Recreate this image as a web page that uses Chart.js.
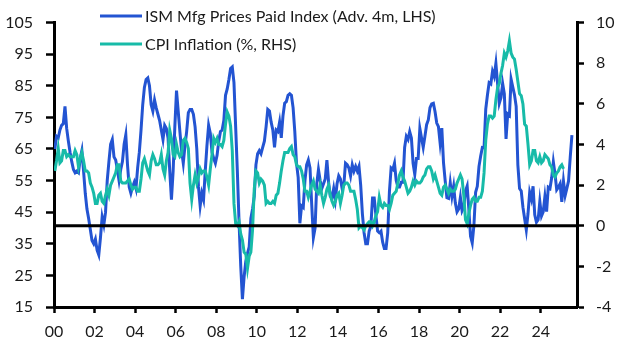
<!DOCTYPE html>
<html>
<head>
<meta charset="utf-8">
<script src="https://cdn.jsdelivr.net/npm/chart.js@4.4.1/dist/chart.umd.min.js"></script>
<style>
  html, body { margin: 0; padding: 0; background: #ffffff; }
  #wrap { width: 630px; height: 355px; position: relative; }
</style>
</head>
<body>
<div id="wrap"><canvas id="c" width="630" height="355"></canvas></div>
<script>
// ---------- DATA ----------
const ismLabel = 'ISM Mfg Prices Paid Index (Adv. 4m, LHS)';
const cpiLabel = 'CPI Inflation (%, RHS)';

// x tick labels (every two years, first tick = Jan 2000)
const xTickLabels = ['00','02','04','06','08','10','12','14','16','18','20','22','24'];

// ISM Manufacturing Prices Paid, advanced 4 months: monthly, plotted from Jan 2000
const ism2000 = [65, 69, 68.5, 71, 72.5, 73, 78.5, 71.5, 67.5, 64, 61, 58.5];
const ism2001 = [57.5, 58, 57.5, 62, 64.5, 58, 51, 46, 43, 39.5, 36, 35];
const ism2002 = [36.5, 33, 31.5, 37, 43.5, 41, 45, 55, 61, 66.5, 68, 62.5];
const ism2003 = [61.5, 58.5, 55, 58.5, 61, 66.5, 69.5, 60, 53, 51, 53, 54.5];
const ism2004 = [52.5, 59, 64, 71, 79, 84.5, 87, 87.5, 85, 79, 77, 80.5];
const ism2005 = [78, 76, 74, 71, 68, 72.5, 71.5, 68.5, 58, 49, 58, 72];
const ism2006 = [83.5, 77, 70.5, 64.5, 60.5, 66, 70.5, 76.5, 77.5, 77.5, 76, 72];
const ism2007 = [65, 53, 47, 51, 49, 58, 66, 72.5, 70, 64, 62, 60.5];
const ism2008 = [63, 67.5, 70.5, 71, 74, 82, 84, 87, 90.5, 91, 86, 72];
const ism2009 = [58, 42, 28, 17.5, 24.5, 29.5, 32, 34, 43, 46, 50, 60];
const ism2010 = [63.5, 64.5, 63.5, 65.5, 67.5, 72, 77.5, 77, 73.5, 71, 65.5, 71];
const ism2011 = [70.5, 73.5, 68.5, 75.5, 79.5, 80, 82, 82.5, 82, 78, 70.5, 60.5];
const ism2012 = [56, 41.5, 47, 46.5, 55, 60, 61.5, 59, 47.5, 37, 40, 54];
const ism2013 = [58.5, 55, 52.5, 54, 55.5, 61.5, 54.5, 50, 49.5, 52.5, 49, 54];
const ism2014 = [56.5, 55.5, 52.5, 53.5, 60.5, 60, 59, 56.5, 60, 58, 59.5, 58];
const ism2015 = [59.5, 53.5, 44.5, 38.5, 35, 35, 39, 40.5, 49.5, 49.5, 44, 39];
const ism2016 = [38.5, 39, 35.5, 33.5, 33.5, 38.5, 51.5, 59, 58.5, 60.5, 55, 53];
const ism2017 = [53, 54.5, 54.5, 65.5, 69, 68, 70.5, 68.5, 60.5, 57, 62, 62];
const ism2018 = [71.5, 68.5, 65.5, 69, 72.7, 74.2, 78.1, 79.3, 79.5, 76.8, 73.2, 72.1];
const ism2019 = [66.9, 71.6, 60.7, 54.9, 49.6, 49.4, 54.3, 50.0, 53.2, 47.9, 45.1, 46.0];
const ism2020 = [49.7, 45.5, 46.7, 51.7, 53.3, 45.9, 37.4, 35.3, 40.8, 51.3, 53.2, 59.5];
const ism2021 = [62.8, 65.5, 65.4, 77.6, 82.1, 86.0, 85.6, 89.6, 88.0, 92.1, 85.7, 79.4];
const ism2022 = [81.2, 85.7, 82.4, 68.2, 76.1, 75.6, 87.1, 84.6, 82.2, 78.5, 60.0, 52.5];
const ism2023 = [51.7, 46.6, 43.0, 39.4, 44.5, 51.3, 49.2, 53.2, 44.2, 41.8, 42.6, 48.4];
const ism2024 = [43.8, 45.1, 49.9, 45.2, 52.9, 52.5, 55.8, 60.9, 57.0, 52.1, 52.9, 54.0];
const ism2025 = [48.3, 54.8, 50.3, 52.5, 54.9, 62.4, 69.4];

// US CPI inflation, % y/y, monthly from Jan 2000
const cpi2000 = [2.7, 3.2, 3.8, 3.1, 3.2, 3.7, 3.7, 3.4, 3.5, 3.4, 3.4, 3.4];
const cpi2001 = [3.7, 3.5, 2.9, 3.3, 3.6, 3.2, 2.7, 2.7, 2.6, 2.1, 1.9, 1.6];
const cpi2002 = [1.1, 1.1, 1.5, 1.6, 1.2, 1.1, 1.5, 1.8, 1.5, 2.0, 2.2, 2.4];
const cpi2003 = [2.6, 3.0, 3.0, 2.2, 2.1, 2.1, 2.1, 2.2, 2.3, 2.0, 1.8, 1.9];
const cpi2004 = [1.9, 1.7, 1.7, 2.3, 3.1, 3.3, 3.0, 2.7, 2.5, 3.2, 3.5, 3.3];
const cpi2005 = [3.0, 3.0, 3.1, 3.5, 2.8, 2.5, 3.2, 3.6, 4.7, 4.3, 3.5, 3.4];
const cpi2006 = [4.0, 3.6, 3.4, 3.5, 4.2, 4.3, 4.1, 3.8, 2.1, 1.3, 2.0, 2.5];
const cpi2007 = [2.1, 2.4, 2.8, 2.6, 2.7, 2.7, 2.4, 2.0, 2.8, 3.5, 4.3, 4.1];
const cpi2008 = [4.3, 4.0, 4.0, 3.9, 4.2, 5.0, 5.6, 5.4, 4.9, 3.7, 1.1, 0.1];
const cpi2009 = [0.0, 0.2, -0.4, -0.7, -1.3, -1.4, -2.1, -1.5, -1.3, -0.2, 1.8, 2.7];
const cpi2010 = [2.6, 2.1, 2.3, 2.2, 2.0, 1.1, 1.2, 1.1, 1.1, 1.2, 1.1, 1.5];
const cpi2011 = [1.6, 2.1, 2.7, 3.2, 3.6, 3.6, 3.6, 3.8, 3.9, 3.5, 3.4, 3.0];
const cpi2012 = [2.9, 2.9, 2.7, 2.3, 1.7, 1.7, 1.4, 1.7, 2.0, 2.2, 1.8, 1.7];
const cpi2013 = [1.6, 2.0, 1.5, 1.1, 1.4, 1.8, 2.0, 1.5, 1.2, 1.0, 1.2, 1.5];
const cpi2014 = [1.6, 1.1, 1.5, 2.0, 2.1, 2.1, 2.0, 1.7, 1.7, 1.7, 1.3, 0.8];
const cpi2015 = [-0.1, 0.0, -0.1, -0.2, 0.0, 0.1, 0.2, 0.2, 0.0, 0.2, 0.5, 0.7];
const cpi2016 = [1.4, 1.0, 0.9, 1.1, 1.0, 1.0, 0.8, 1.1, 1.5, 1.6, 1.7, 2.1];
const cpi2017 = [2.5, 2.7, 2.4, 2.2, 1.9, 1.6, 1.7, 1.9, 2.2, 2.0, 2.2, 2.1];
const cpi2018 = [2.1, 2.2, 2.4, 2.5, 2.8, 2.9, 2.9, 2.7, 2.3, 2.5, 2.2, 1.9];
const cpi2019 = [1.6, 1.5, 1.9, 2.0, 1.8, 1.6, 1.8, 1.7, 1.7, 1.8, 2.1, 2.3];
const cpi2020 = [2.5, 2.3, 1.5, 0.3, 0.1, 0.6, 1.0, 1.3, 1.4, 1.2, 1.2, 1.4];
const cpi2021 = [1.4, 1.7, 2.6, 4.2, 5.0, 5.4, 5.4, 5.3, 5.4, 6.2, 6.8, 7.0];
const cpi2022 = [7.5, 7.9, 8.5, 8.3, 8.6, 9.1, 8.5, 8.3, 8.2, 7.7, 7.1, 6.5];
const cpi2023 = [6.4, 6.0, 5.0, 4.9, 4.0, 3.0, 3.2, 3.7, 3.7, 3.2, 3.1, 3.4];
const cpi2024 = [3.1, 3.2, 3.5, 3.4, 3.3, 3.0, 2.9, 2.5, 2.4, 2.6, 2.7, 2.9];
const cpi2025 = [3.0, 2.8];

// zero line on the right-hand axis
const zeroLine = [0, 0];

// ---------- BUILD ----------
const ismValues = [].concat(ism2000, ism2001, ism2002, ism2003, ism2004, ism2005, ism2006,
  ism2007, ism2008, ism2009, ism2010, ism2011, ism2012, ism2013, ism2014, ism2015, ism2016,
  ism2017, ism2018, ism2019, ism2020, ism2021, ism2022, ism2023, ism2024, ism2025);
const cpiValues = [].concat(cpi2000, cpi2001, cpi2002, cpi2003, cpi2004, cpi2005, cpi2006,
  cpi2007, cpi2008, cpi2009, cpi2010, cpi2011, cpi2012, cpi2013, cpi2014, cpi2015, cpi2016,
  cpi2017, cpi2018, cpi2019, cpi2020, cpi2021, cpi2022, cpi2023, cpi2024, cpi2025);

// x in months since Jan 2000 (mid-month)
const X_MAX = 309.5;
const toPoints = arr => arr.map((v, i) => ({ x: i + 0.5, y: v }));

const BLUE = '#2354d2';
const TEAL = '#17bba8';
const INK = '#1a1a1a';
const FONT = 'Lato';

const legendPlugin = {
  id: 'customLegend',
  afterDraw(chart) {
    const ctx = chart.ctx;
    const items = [
      { label: ismLabel, color: BLUE, y: 16 },
      { label: cpiLabel, color: TEAL, y: 44 }
    ];
    ctx.save();
    ctx.font = '16px ' + FONT;
    ctx.textBaseline = 'middle';
    ctx.textAlign = 'left';
    items.forEach(it => {
      ctx.strokeStyle = it.color;
      ctx.lineWidth = 3;
      ctx.beginPath();
      ctx.moveTo(100, it.y);
      ctx.lineTo(142, it.y);
      ctx.stroke();
      ctx.fillStyle = INK;
      ctx.fillText(it.label, 145, it.y + 1);
    });
    ctx.restore();
  }
};

const border = { display: true, color: '#000', width: 3 };

new Chart(document.getElementById('c'), {
  type: 'line',
  data: {
    datasets: [
      { label: 'zero', data: [{ x: 0, y: zeroLine[0] }, { x: X_MAX, y: zeroLine[1] }],
        yAxisID: 'y1', borderColor: '#000', borderWidth: 3, pointRadius: 0, order: 0 },
      { label: cpiLabel, data: toPoints(cpiValues), yAxisID: 'y1',
        borderColor: TEAL, borderWidth: 3, pointRadius: 0, tension: 0, order: 1 },
      { label: ismLabel, data: toPoints(ismValues), yAxisID: 'y',
        borderColor: BLUE, borderWidth: 3, pointRadius: 0, tension: 0, order: 2 }
    ]
  },
  options: {
    responsive: false,
    animation: false,
    devicePixelRatio: 1,
    layout: { padding: { top: 15, left: 0, right: 0, bottom: 0 } },
    plugins: { legend: { display: false }, tooltip: { enabled: false } },
    scales: {
      x: {
        type: 'linear', position: 'bottom', min: 0, max: X_MAX,
        border: border,
        grid: { drawOnChartArea: false, drawTicks: true, tickLength: 6, tickColor: '#000', tickWidth: 2.5 },
        ticks: { color: INK, font: { family: FONT, size: 16 }, padding: 9, maxRotation: 0, autoSkip: false,
          callback: v => xTickLabels[Math.round(v / 24)] },
        afterBuildTicks: s => { s.ticks = xTickLabels.map((_, i) => ({ value: i * 24 })); },
        afterFit: s => { s.height = 48; }
      },
      y: {
        position: 'left', min: 15, max: 105,
        border: border,
        grid: { drawOnChartArea: false, drawTicks: true, tickLength: 8, tickColor: '#000', tickWidth: 2.5 },
        ticks: { color: INK, font: { family: FONT, size: 16 }, padding: 13, stepSize: 10 },
        afterFit: s => { s.width = 54; }
      },
      y1: {
        position: 'right', min: -4, max: 10,
        border: border,
        grid: { drawOnChartArea: false, drawTicks: true, tickLength: 7, tickColor: '#000', tickWidth: 2.5 },
        ticks: { color: INK, font: { family: FONT, size: 16 }, padding: 12, stepSize: 2 },
        afterFit: s => { s.width = 53; }
      }
    }
  },
  plugins: [legendPlugin]
});
</script>
</body>
</html>
